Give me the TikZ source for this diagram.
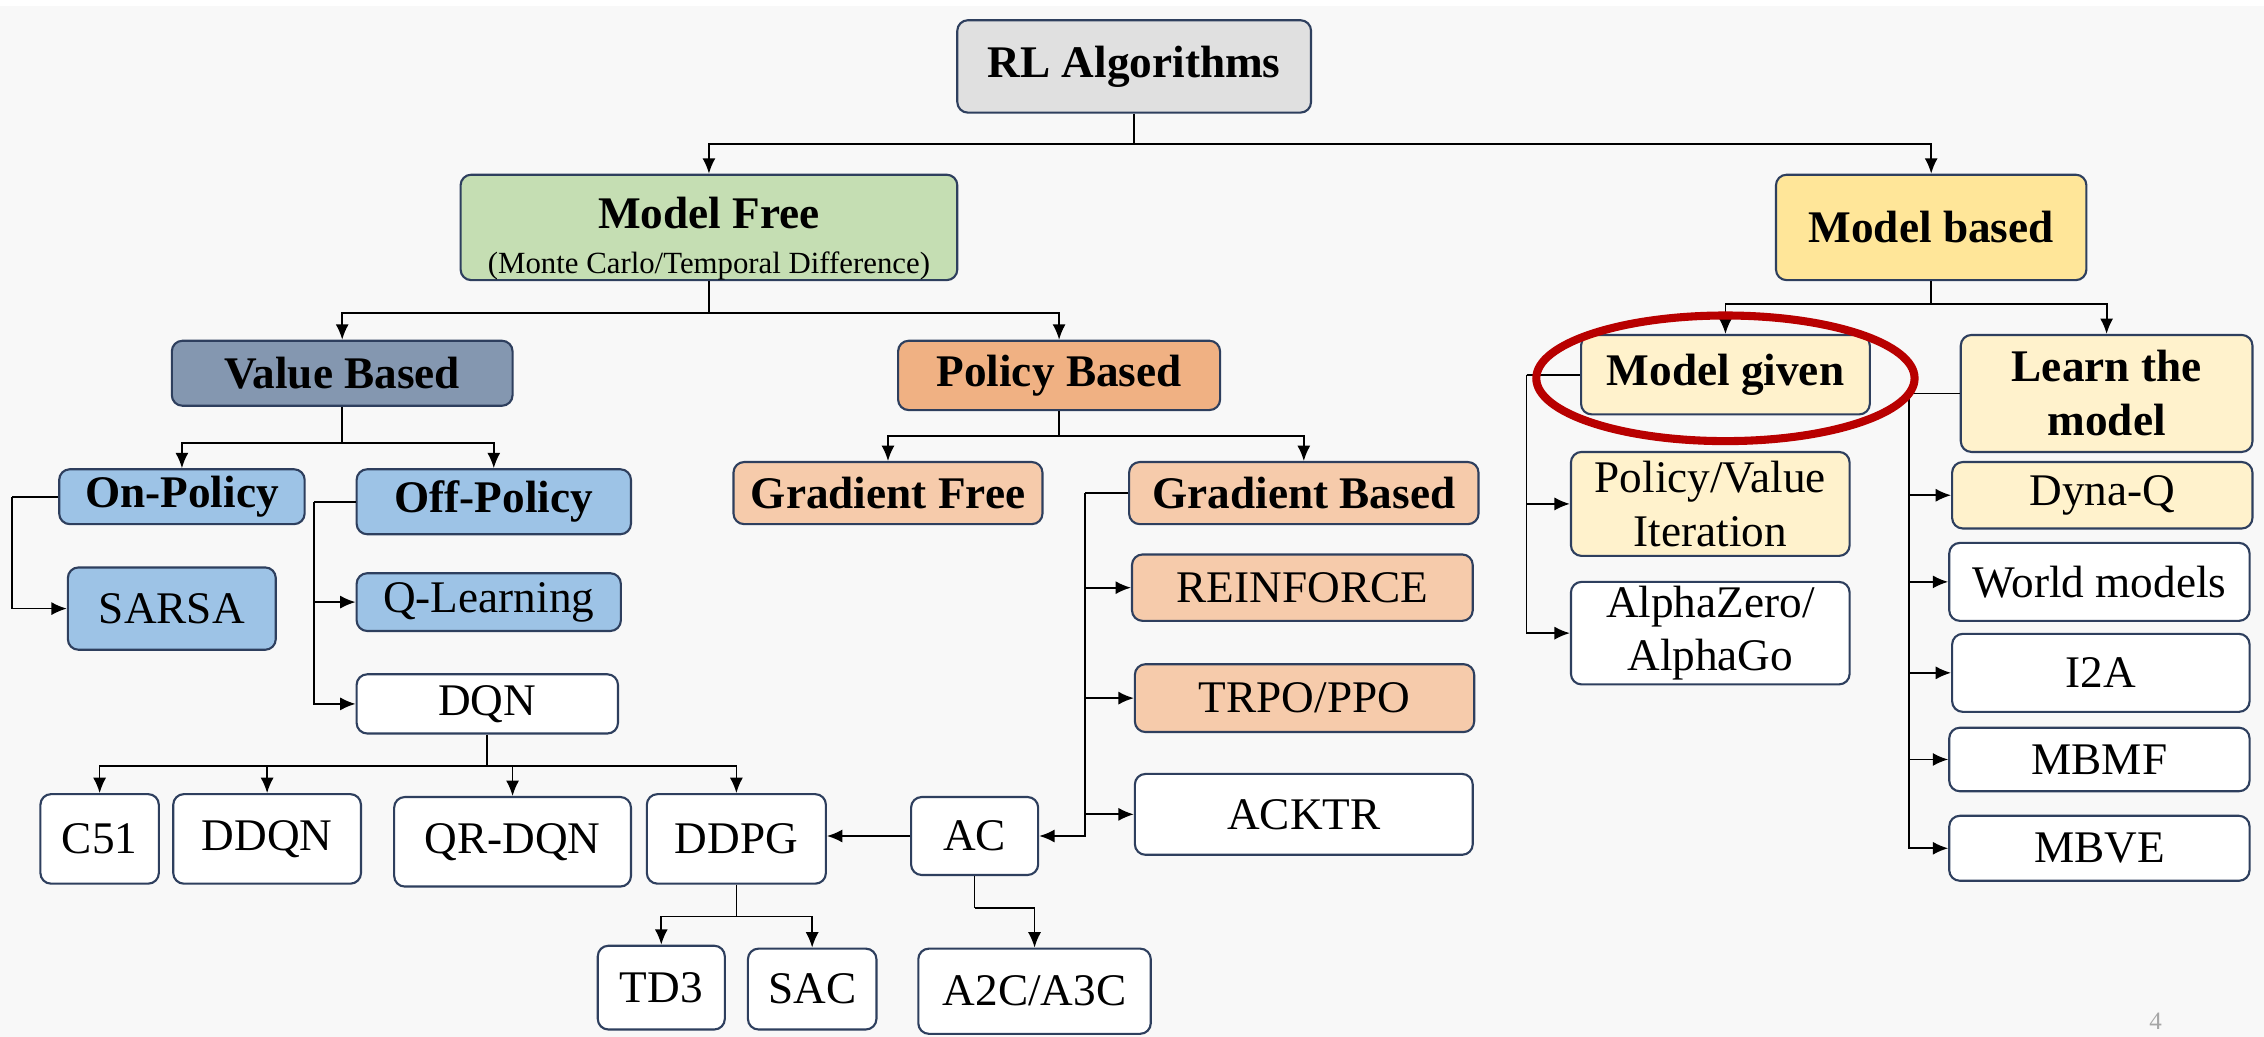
\documentclass[tikz,border=0pt]{standalone}
\usepackage{fontspec}
\setmainfont{Liberation Serif}
\usetikzlibrary{arrows.meta,calc}
\definecolor{bgc}{HTML}{F8F8F8}
\definecolor{bordc}{HTML}{2E3F5E}
\definecolor{cgray}{HTML}{E0E0E0}
\definecolor{cgreen}{HTML}{C5DEB3}
\definecolor{cyellow}{HTML}{FFE699}
\definecolor{cpale}{HTML}{FFF2CC}
\definecolor{cslate}{HTML}{8497B0}
\definecolor{cblue}{HTML}{9DC3E6}
\definecolor{corange}{HTML}{F0B183}
\definecolor{cpeach}{HTML}{F6CBAB}
\definecolor{cred}{HTML}{B80000}
\newcommand\mybox[7]{\node[#6, minimum width={(#4-#2)*0.75pt}, minimum height={(#5-#3)*0.75pt}] (#1) at ({(#2+#4)/2},{(#3+#5)/2}) {#7};}
\begin{document}
\begin{tikzpicture}[x=0.75pt,y=-0.75pt,
  nbox/.style={draw=bordc, line width=1.1pt, rounded corners=5.5pt, inner sep=0pt, align=center, fill=white, font=\fontsize{23.5}{28}\selectfont},
  bbox/.style={nbox, font=\fontsize{23.5}{28}\selectfont\bfseries},
  arr/.style={-{Latex[length=8pt,width=6.8pt]}, line width=0.9pt},
  ln/.style={line width=0.9pt}]
\fill[bgc] (0,0) rectangle (1568,718);
\fill[white] (0,0) rectangle (1568,4);
\useasboundingbox (0,0) rectangle (1568,718);
% nodes
\mybox{rl}{663}{14}{908}{78}{bbox,fill=cgray}{RL Algorithms}
\mybox{mf}{319}{121}{663}{194}{bbox,fill=cgreen}{\rule{0pt}{28pt}Model Free\\[-5pt]{\mdseries\fontsize{16}{19}\selectfont (Monte Carlo/Temporal Difference)}}
\mybox{mb}{1230}{121}{1445}{194}{bbox,fill=cyellow}{Model based}
\mybox{vb}{119}{236}{355}{281}{bbox,fill=cslate}{Value Based}
\mybox{pb}{622}{236}{845}{284}{bbox,fill=corange}{Policy Based}
\mybox{onp}{41}{325}{211}{363}{bbox,fill=cblue}{On-Policy}
\mybox{offp}{247}{325}{437}{370}{bbox,fill=cblue}{Off-Policy}
\mybox{sarsa}{47}{393}{191}{450}{nbox,fill=cblue}{SARSA}
\mybox{ql}{247}{397}{430}{437}{nbox,fill=cblue}{Q-Learning}
\mybox{dqn}{247}{467}{428}{508}{nbox}{DQN}
\mybox{c51}{28}{550}{110}{612}{nbox}{C51}
\mybox{ddqn}{120}{550}{250}{612}{nbox}{DDQN}
\mybox{qrdqn}{273}{552}{437}{614}{nbox}{QR-DQN}
\mybox{ddpg}{448}{550}{572}{612}{nbox}{DDPG}
\mybox{ac}{631}{552}{719}{606}{nbox}{AC}
\mybox{td3}{414}{655}{502}{713}{nbox}{TD3}
\mybox{sac}{518}{657}{607}{713}{nbox}{SAC}
\mybox{a2c}{636}{657}{797}{716}{nbox}{A2C/A3C}
\mybox{gf}{508}{320}{722}{363}{bbox,fill=cpeach}{Gradient Free}
\mybox{gb}{782}{320}{1024}{363}{bbox,fill=cpeach}{Gradient Based}
\mybox{rein}{784}{384}{1020}{430}{nbox,fill=cpeach}{REINFORCE}
\mybox{trpo}{786}{460}{1021}{507}{nbox,fill=cpeach}{TRPO/PPO}
\mybox{acktr}{786}{536}{1020}{592}{nbox}{ACKTR}
\mybox{mg}{1095}{232}{1295}{287}{bbox,fill=cpale}{Model given}
\mybox{ltm}{1358}{232}{1560}{313}{bbox,fill=cpale}{Learn the\\model}
\mybox{pvi}{1088}{313}{1281}{385}{nbox,fill=cpale}{Policy/Value\\Iteration}
\mybox{az}{1088}{403}{1281}{474}{nbox}{AlphaZero/\\AlphaGo}
\mybox{dyna}{1352}{320}{1560}{366}{nbox,fill=cpale}{Dyna-Q}
\mybox{wm}{1350}{376}{1558}{430}{nbox}{World models}
\mybox{i2a}{1352}{439}{1558}{493}{nbox}{I2A}
\mybox{mbmf}{1350}{504}{1558}{548}{nbox}{MBMF}
\mybox{mbve}{1350}{565}{1558}{610}{nbox}{MBVE}
\node[text=black!35, font=\fontsize{13}{15}\selectfont] (pg) at (1493,707) {4};
% tree connectors
\coordinate (b1) at ($(rl.south)+(0,21)$);
\draw[ln] (rl.south) -- (b1);
\draw[arr] (b1) -| (mf.north);
\draw[arr] (b1) -| (mb.north);
\coordinate (b2) at ($(mf.south)+(0,22)$);
\draw[ln] (mf.south) -- (b2);
\draw[arr] (b2) -| (vb.north);
\draw[arr] (b2) -| (pb.north);
\coordinate (b3) at ($(vb.south)+(0,25)$);
\draw[ln] (vb.south) -- (b3);
\draw[arr] (b3) -| (onp.north);
\draw[arr] (b3) -| (offp.north);
\coordinate (b4) at ($(pb.south)+(0,17)$);
\draw[ln] (pb.south) -- (b4);
\draw[arr] (b4) -| (gf.north);
\draw[arr] (b4) -| (gb.north);
\coordinate (b5) at ($(dqn.south)+(0,22)$);
\draw[ln] (dqn.south) -- (b5);
\draw[arr] (b5) -| (c51.north);
\draw[arr] (b5) -| (ddqn.north);
\draw[arr] (b5) -| (qrdqn.north);
\draw[arr] (b5) -| (ddpg.north);
\coordinate (b6) at ($(ddpg.south)+(0,22)$);
\draw[ln] (ddpg.south) -- (b6);
\draw[arr] (b6) -| (td3.north);
\draw[arr] (b6) -| (sac.north);
\coordinate (b7) at ($(ac.south)+(0,22)$);
\draw[ln] (ac.south) -- (b7);
\draw[arr] (b7) -| (a2c.north);
\coordinate (b8) at ($(mb.south)+(0,16)$);
\draw[ln] (mb.south) -- (b8);
\draw[arr] (b8) -| (mg.north);
\draw[arr] (b8) -| (ltm.north);
% side buses
\coordinate (s1) at ($(onp.west)+(-32,0)$);
\draw[ln] (onp.west) -- (s1);
\draw[arr] (s1) |- (sarsa.west);
\coordinate (s2) at ($(offp.west)+(-29,0)$);
\draw[ln] (offp.west) -- (s2);
\draw[arr] (s2) |- (ql.west);
\draw[arr] (s2) |- (dqn.west);
\coordinate (s3) at ($(gb.west)+(-30,0)$);
\draw[ln] (gb.west) -- (s3);
\draw[arr] (s3) |- (rein.west);
\draw[arr] (s3) |- (trpo.west);
\draw[arr] (s3) |- (acktr.west);
\draw[arr] (s3) |- (ac.east);
\draw[arr] (ac.west) -- (ac.west -| ddpg.east);
\coordinate (s4) at ($(mg.west)+(-37,0)$);
\draw[ln] (mg.west) -- (s4);
\draw[arr] (s4) |- (pvi.west);
\draw[arr] (s4) |- (az.west);
\coordinate (s5) at ($(ltm.west)+(-35,0)$);
\draw[ln] (ltm.west) -- (s5);
\draw[arr] (s5) |- (dyna.west);
\draw[arr] (s5) |- (wm.west);
\draw[arr] (s5) |- (i2a.west);
\draw[arr] (s5) |- (mbmf.west);
\draw[arr] (s5) |- (mbve.west);
% highlight
\draw[cred, line width=4.2pt] (1195,262) ellipse [x radius=131, y radius=43.5];
\end{tikzpicture}
\end{document}
